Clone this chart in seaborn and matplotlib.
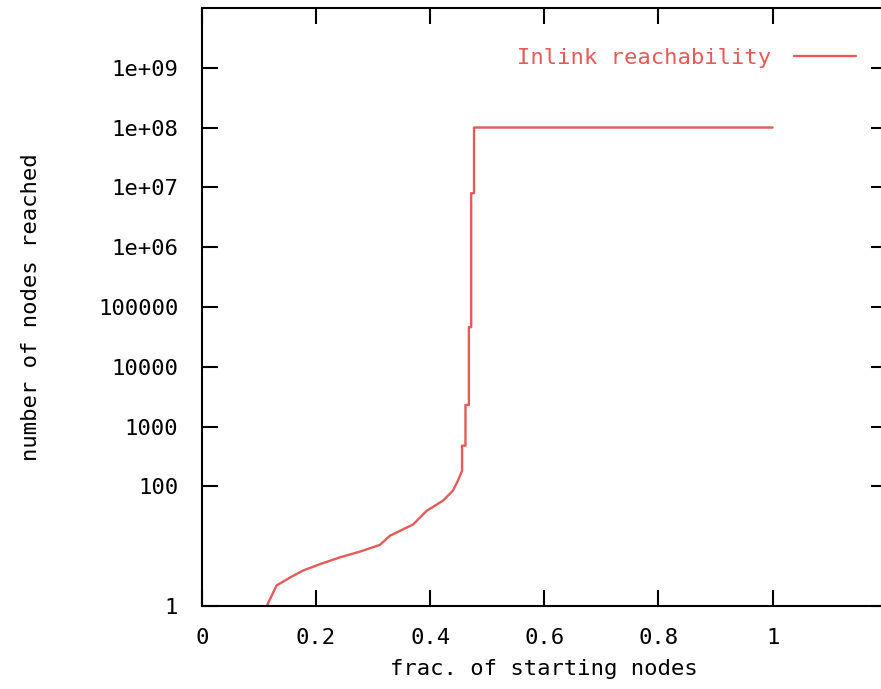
import seaborn as sns
import matplotlib.pyplot as plt
import pandas as pd

# Data (cumulative reachability curve)
frac = [0.114, 0.131, 0.155, 0.177, 0.207, 0.242, 0.277, 0.312, 0.330, 0.370,
        0.394, 0.423, 0.440, 0.449, 0.456, 0.456, 0.462, 0.462, 0.468, 0.468,
        0.472, 0.472, 0.477, 0.477, 1.0]
nodes = [1, 2.2, 3.0, 3.9, 5.0, 6.5, 8.1, 10.5, 15, 23,
         39, 58, 85, 126, 182, 480, 480, 2300, 2300, 46000,
         46000, 8e6, 8e6, 1e8, 1e8]

x_ticks = [0, 0.2, 0.4, 0.6, 0.8, 1]
x_labels = ['0', '0.2', '0.4', '0.6', '0.8', '1']
y_ticks = [1, 100, 1000, 10000, 100000, 1e6, 1e7, 1e8, 1e9]
y_labels = ['1', '100', '1000', '10000', '100000', '1e+06', '1e+07', '1e+08', '1e+09']

df = pd.DataFrame({'frac': frac, 'nodes': nodes})

sns.set_style('white')
plt.rcParams['font.family'] = ['DejaVu Sans Mono']
plt.rcParams['text.color'] = 'black'
plt.rcParams['axes.labelcolor'] = 'black'

red = '#e65a5a'
fs = 16

fig = plt.figure(figsize=(8.81, 6.89), dpi=100)
ax = fig.add_axes([0.229, 0.1205, 0.7775, 0.868])

sns.lineplot(data=df, x='frac', y='nodes', estimator=None, sort=False,
             color=red, linewidth=1.7, label='Inlink reachability', ax=ax)

ax.set_yscale('log')
ax.set_xlim(0, 1.2)
ax.set_ylim(1, 1e10)
ax.set_xticks(x_ticks)
ax.set_xticklabels(x_labels)
ax.set_yticks(y_ticks)
ax.set_yticklabels(y_labels)
ax.minorticks_off()

ax.tick_params(direction='in', length=11.5, width=1.5, labelsize=fs,
               left=True, bottom=True, top=True, right=True, colors='black')
ax.tick_params(axis='x', pad=16)
ax.tick_params(axis='y', pad=17)

for s in ax.spines.values():
    s.set_color('black')
    s.set_linewidth(1.5)

ax.set_xlabel('frac. of starting nodes', fontsize=fs, labelpad=8)
ax.set_ylabel('number of nodes reached', fontsize=fs, labelpad=41)

leg = ax.legend(loc='center right', bbox_to_anchor=(0.955, 0.917),
                frameon=False, markerfirst=False, fontsize=fs,
                handlelength=2.8, handletextpad=1.0,
                borderpad=0, borderaxespad=0)
for t in leg.get_texts():
    t.set_color(red)

fig.savefig('out.png', dpi=100)
